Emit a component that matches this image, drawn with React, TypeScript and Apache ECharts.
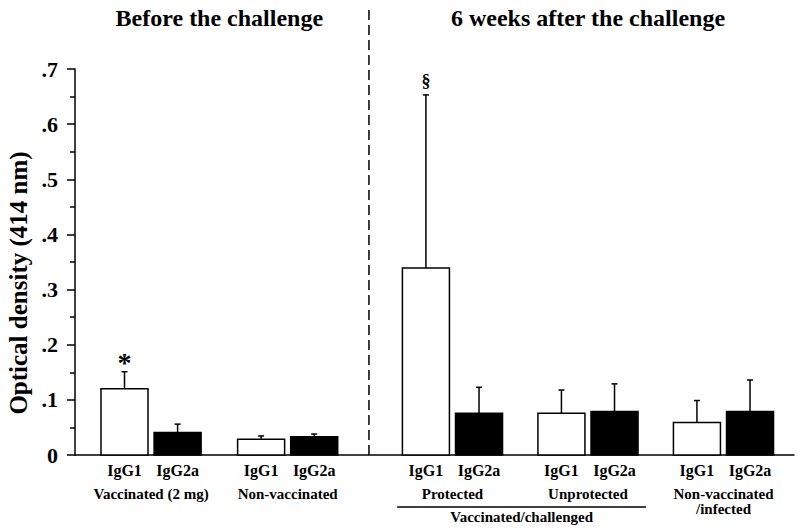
import React, { useEffect, useRef } from 'react';
import * as echarts from 'echarts';

const groupLabels = ['Vaccinated (2 mg)', 'Non-vaccinated', 'Protected', 'Unprotected', 'Non-vaccinated\n/infected'];
const groupPositions = [2.75, 7.69, 13.65, 18.55, 23.45];
const subclassLabels = ['IgG1', 'IgG2a'];
const igg1Means = [0.12, 0.0285, 0.339, 0.0758, 0.0588];
const igg1Errors = [0.031, 0.006, 0.314, 0.042, 0.04];
const igg2aMeans = [0.041, 0.033, 0.0758, 0.079, 0.079];
const igg2aErrors = [0.015, 0.005, 0.047, 0.05, 0.057];
const igg1Marks = ['*', '', '§', '', ''];
const phaseTitles = ['Before the challenge', '6 weeks after the challenge'];
const challengedLabel = 'Vaccinated/challenged';
const yAxisTitle = 'Optical density (414 nm)';
const yTickValues = [0, 0.1, 0.2, 0.3, 0.4, 0.5, 0.6, 0.7];
const yTickLabels = ['0', '.1', '.2', '.3', '.4', '.5', '.6', '.7'];
const dividerPosition = 10.63;

const BAR_OFFSET = 0.96;
const BAR_W = 1.7;
const FONT = '"Liberation Serif", "Times New Roman", serif';

function txt(x: number, y: number, text: string, size: number, align = 'center', valign = 'middle', extra: any = {}) {
  return {
    type: 'text',
    x,
    y,
    style: {
      text,
      fill: '#000',
      font: `bold ${size}px ${FONT}`,
      fontFamily: FONT,
      fontWeight: 'bold',
      fontSize: size,
      align,
      textAlign: align,
      verticalAlign: valign,
      textVerticalAlign: valign,
      ...extra,
    },
  };
}

function barSeries(name: string, means: number[], errors: number[], offset: number, fill: string, marks: string[] | null) {
  return {
    type: 'custom',
    name,
    clip: false,
    data: means.map((v, i) => [groupPositions[i] + offset, v, errors[i]]),
    renderItem: (params: any, api: any) => {
      const i = params.dataIndex;
      const x = api.value(0);
      const v = api.value(1);
      const e = api.value(2);
      const base = api.coord([x, 0]);
      const top = api.coord([x, v]);
      const errTop = api.coord([x, v + e]);
      const w = api.size([BAR_W, 0])[0];
      const children: any[] = [
        {
          type: 'line',
          shape: { x1: base[0], y1: top[1], x2: base[0], y2: errTop[1] },
          style: { stroke: '#000', lineWidth: 1.5 },
        },
        {
          type: 'line',
          shape: { x1: base[0] - 3, y1: errTop[1], x2: base[0] + 3, y2: errTop[1] },
          style: { stroke: '#000', lineWidth: 1.5 },
        },
        {
          type: 'rect',
          shape: { x: base[0] - w / 2, y: top[1], width: w, height: base[1] - top[1] },
          style: { fill, stroke: '#000', lineWidth: 1.5 },
        },
        txt(base[0], base[1] + 15, name, 16),
      ];
      if (marks && marks[i]) {
        const m = marks[i];
        if (m === '*') children.push(txt(base[0], errTop[1] - 9, m, 28, 'center', 'middle'));
        else children.push(txt(base[0], errTop[1] - 14, m, 18, 'center', 'middle'));
      }
      return { type: 'group', children };
    },
    z: 3,
  };
}

export default function App() {
  const ref = useRef<HTMLDivElement>(null);
  useEffect(() => {
    if (!ref.current) return;
    const chart = echarts.init(ref.current, null, { renderer: 'svg' });
    const option: any = {
      animation: false,
      backgroundColor: '#fff',
      grid: { left: 75, right: 6, top: 69, bottom: 76 },
      xAxis: {
        type: 'value',
        min: 0,
        max: 26,
        axisLine: { show: true, onZero: false, lineStyle: { color: '#000', width: 1.5 } },
        axisTick: { show: false },
        axisLabel: { show: false },
        splitLine: { show: false },
      },
      yAxis: {
        type: 'value',
        min: 0,
        max: 0.7,
        interval: 0.1,
        axisLine: { show: true, lineStyle: { color: '#000', width: 1.5 } },
        axisTick: { show: true, length: 8, lineStyle: { color: '#000', width: 1.5 } },
        minorTick: { show: true, splitNumber: 2, length: 5, lineStyle: { color: '#000', width: 1.5 } },
        splitLine: { show: false },
        minorSplitLine: { show: false },
        axisLabel: {
          margin: 17,
          color: '#000',
          fontFamily: FONT,
          fontWeight: 'bold',
          fontSize: 22,
          formatter: (val: number) => {
            const idx = yTickValues.findIndex((t) => Math.abs(t - val) < 1e-6);
            return idx >= 0 ? yTickLabels[idx] : '';
          },
        },
      },
      graphic: [
        {
          type: 'text',
          x: 18,
          y: 283,
          rotation: Math.PI / 2,
          style: {
            text: yAxisTitle,
            fill: '#000',
            font: `bold 25px ${FONT}`,
            align: 'center',
            textAlign: 'center',
            verticalAlign: 'middle',
            textVerticalAlign: 'middle',
          },
        },
      ],
      series: [
        barSeries(subclassLabels[0], igg1Means, igg1Errors, -BAR_OFFSET, '#fff', igg1Marks),
        barSeries(subclassLabels[1], igg2aMeans, igg2aErrors, BAR_OFFSET, '#000', null),
        {
          type: 'custom',
          name: 'groups',
          clip: false,
          data: groupPositions.map((p) => [p, 0]),
          renderItem: (params: any, api: any) => {
            const c = api.coord([api.value(0), 0]);
            return txt(c[0], c[1] + 31, groupLabels[params.dataIndex], 15, 'center', 'top', { lineHeight: 15 });
          },
        },
        {
          type: 'custom',
          name: 'extras',
          clip: false,
          data: [[dividerPosition, 0]],
          renderItem: (params: any, api: any) => {
            const d = api.coord([api.value(0), 0]);
            const ul1 = api.coord([groupPositions[2] - 2.0, 0]);
            const ul2 = api.coord([groupPositions[3] + 2.1, 0]);
            const t1 = api.coord([(groupPositions[0] + groupPositions[1]) / 2, 0.7]);
            const t2 = api.coord([(groupPositions[2] + groupPositions[4]) / 2, 0.7]);
            return {
              type: 'group',
              children: [
                {
                  type: 'line',
                  shape: { x1: d[0], y1: d[1], x2: d[0], y2: 8 },
                  style: { stroke: '#000', lineWidth: 1.5, lineDash: [10, 5] },
                },
                {
                  type: 'line',
                  shape: { x1: ul1[0], y1: d[1] + 52, x2: ul2[0], y2: d[1] + 52 },
                  style: { stroke: '#000', lineWidth: 1.3 },
                },
                txt((ul1[0] + ul2[0]) / 2, d[1] + 62, challengedLabel, 15),
                txt(t1[0], t1[1] - 51, phaseTitles[0], 24),
                txt(t2[0], t2[1] - 51, phaseTitles[1], 24),
              ],
            };
          },
        },
      ],
    };
    chart.setOption(option);
    return () => chart.dispose();
  }, []);
  return <div ref={ref} style={{ position: 'fixed', left: 0, top: 0, width: 800, height: 531 }} />;
}
